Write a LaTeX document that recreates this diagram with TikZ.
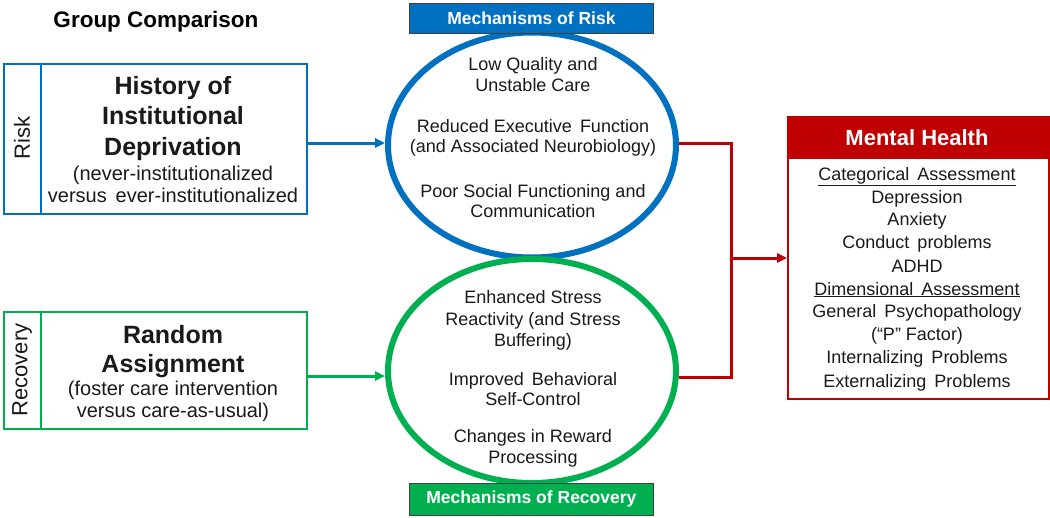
\documentclass[tikz,border=0pt]{standalone}
\usepackage{fontspec}
\setmainfont{Liberation Sans}
\usetikzlibrary{shapes.geometric,arrows.meta}
\definecolor{cblue}{HTML}{0070C0}
\definecolor{cgreen}{HTML}{00B050}
\definecolor{cred}{HTML}{C00000}
\definecolor{ctext}{HTML}{1A1A1A}
\tikzset{
  tl/.style={anchor=base, inner sep=0pt, text=ctext},
  head/.style={tl, font=\fontsize{25}{29}\selectfont\bfseries},
  sub/.style={tl, font=\fontsize{20}{22}\selectfont},
  elt/.style={tl, font=\fontsize{18}{21}\selectfont},
  mht/.style={tl, font=\fontsize{18}{23}\selectfont},
  box/.style={draw, line width=2pt, inner sep=0pt, anchor=north west},
  oval/.style={ellipse, draw, line width=6pt, inner sep=0pt, minimum width=288pt},
  lab/.style={draw=black!75, line width=0.8pt, inner sep=0pt, anchor=north west, text=white, font=\fontsize{17.5}{20}\selectfont\bfseries, minimum width=244pt},
  conn/.style={line width=3pt},
  tip/.style={-{Triangle[length=10pt,width=9pt]}}
}
\begin{document}
\begin{tikzpicture}[x=1pt,y=-1pt]
\useasboundingbox (0,0) rectangle (1050,517);
\fill[white] (0,0) rectangle (1050,517);

% title
\node[tl, font=\fontsize{22.5}{25}\selectfont\bfseries, text=black] (title) at (156,27) {Group Comparison};

% Risk box
\node[box, draw=cblue, minimum width=303pt, minimum height=150pt] (riskbox) at (3,63) {};
\draw[cblue, line width=2pt] ([xshift=38pt]riskbox.north west) -- ([xshift=38pt]riskbox.south west);
\node[tl, anchor=center, rotate=90, font=\fontsize{22}{24}\selectfont] (risklab) at (22,138) {Risk};
\node[head] (h1) at (173,94) {History of};
\node[head] (h2) at (173,124) {Institutional};
\node[head] (h3) at (173,155) {Deprivation};
\node[sub] (h4) at (173,180) {(never-institutionalized};
\node[sub] (h5) at (173,202) {versus\, ever-institutionalized};

% Recovery box
\node[box, draw=cgreen, minimum width=303pt, minimum height=117pt] (recbox) at (3,311) {};
\draw[cgreen, line width=2pt] ([xshift=38pt]recbox.north west) -- ([xshift=38pt]recbox.south west);
\node[tl, anchor=center, rotate=90, font=\fontsize{22}{24}\selectfont] (reclab) at (22,370) {Recovery};
\node[head] (g1) at (173,343) {Random};
\node[head] (g2) at (173,372) {Assignment};
\node[sub] (g3) at (173,395) {(foster care intervention};
\node[sub] (g4) at (173,417) {versus care-as-usual)};

% Ellipses
\node[oval, draw=cblue, minimum height=225pt] (riskell) at (532,145) {};
\node[oval, draw=cgreen, minimum height=224pt] (recell) at (532,371) {};

\node[lab, fill=cblue, minimum height=30pt] (mrisk) at (409,3) {Mechanisms of Risk};
\node[lab, fill=cgreen, minimum height=32pt] (mrec) at (409,483) {Mechanisms of Recovery};

% risk ellipse text
\node[elt] (e1) at (533,70) {Low Quality and};
\node[elt] (e2) at (533,91) {Unstable Care};
\node[elt] (e3) at (533,132) {Reduced Executive\, Function};
\node[elt] (e4) at (533,152) {(and Associated Neurobiology)};
\node[elt] (e5) at (533,197) {Poor Social Functioning and};
\node[elt] (e6) at (533,217) {Communication};

% recovery ellipse text
\node[elt] (f1) at (533,303) {Enhanced Stress};
\node[elt] (f2) at (533,325) {Reactivity (and Stress};
\node[elt] (f3) at (533,346) {Buffering)};
\node[elt] (f4) at (533,385) {Improved\, Behavioral};
\node[elt] (f5) at (533,405) {Self-Control};
\node[elt] (f6) at (533,442) {Changes in Reward};
\node[elt] (f7) at (533,463) {Processing};

% Mental health box
\node[box, draw=cred, minimum width=261pt, minimum height=282pt] (mh) at (787,116) {};
\node[draw=cred, fill=cred, line width=2pt, inner sep=0pt, anchor=north west, minimum width=261pt, minimum height=41pt] (mhhead) at (787,116) {};
\node[tl, text=white, font=\fontsize{22}{24}\selectfont\bfseries] (mhtitle) at (917,145) {Mental Health};
\node[mht] (m1) at (917,180) {\underline{Categorical\, Assessment}};
\node[mht] (m2) at (917,203) {Depression};
\node[mht] (m3) at (917,225) {Anxiety};
\node[mht] (m4) at (917,248) {Conduct\, problems};
\node[mht] (m5) at (917,272) {ADHD};
\node[mht] (m6) at (917,295) {\underline{Dimensional\, Assessment}};
\node[mht] (m7) at (917,317) {General\, Psychopathology};
\node[mht] (m8) at (917,340) {(“P” Factor)};
\node[mht] (m9) at (917,363) {Internalizing\, Problems};
\node[mht] (m10) at (917,387) {Externalizing\, Problems};

% connectors
\draw[conn, cblue, tip] (riskbox.east |- 0,143) -- (riskell.west |- 0,143);
\draw[conn, cgreen, tip] (recbox.east |- 0,376) -- (recell.west |- 0,376);
\coordinate (jn) at (731,258);
\draw[conn, cred] (riskell.east |- 0,143) -| (jn) |- (recell.east |- 0,377);
\draw[conn, cred, tip] (jn) -- (mh.west |- jn);
\end{tikzpicture}
\end{document}
